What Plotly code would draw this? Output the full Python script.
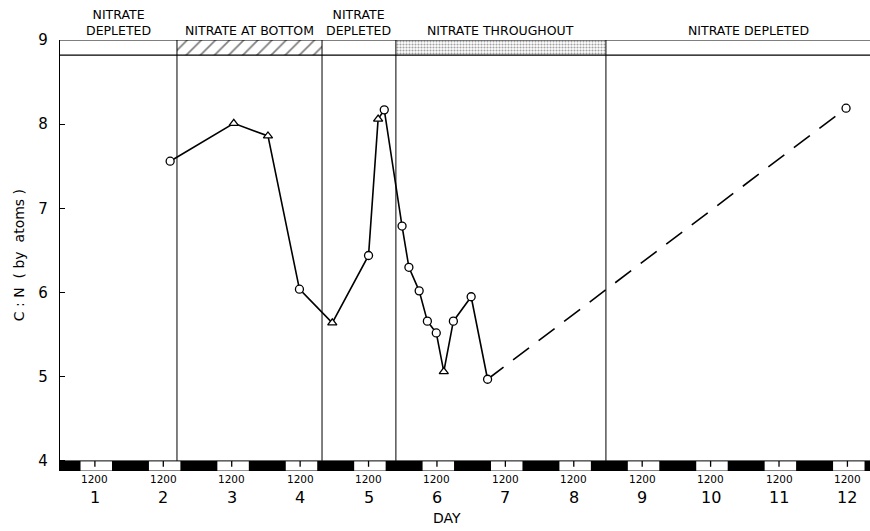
import plotly.graph_objects as go

# ---- data ----
time_solid = [2.10, 3.03, 3.53, 3.99, 4.47, 5.00, 5.14, 5.23, 5.49, 5.59, 5.74, 5.86, 5.99, 6.10, 6.24, 6.50, 6.74]
cn_solid   = [7.56, 8.01, 7.86, 6.04, 5.64, 6.44, 8.06, 8.17, 6.79, 6.30, 6.02, 5.66, 5.52, 5.06, 5.66, 5.95, 4.97]
sym_solid  = ["circle", "triangle-up", "triangle-up", "circle", "triangle-up", "circle", "triangle-up", "circle",
              "circle", "circle", "circle", "circle", "circle", "triangle-up", "circle", "circle", "circle"]
time_dash = [6.74, 11.98]
cn_dash   = [4.97, 8.19]

days = [1, 2, 3, 4, 5, 6, 7, 8, 9, 10, 11, 12]
day_labels = ["1", "2", "3", "4", "5", "6", "7", "8", "9", "10", "11", "12"]
noon_label = "1200"

# regime boundaries (days) and labels
bounds = [0.49, 2.20, 4.32, 5.40, 8.47, 12.65]
regime_labels = ["NITRATE<br>DEPLETED", "NITRATE AT BOTTOM", "NITRATE<br>DEPLETED",
                 "NITRATE THROUGHOUT", "NITRATE DEPLETED"]
regime_fill = [None, "/", None, ".", None]

light_start = -0.21   # light period relative to noon
light_end = 0.25

XMIN, XMAX = 0.49, 12.33
YMIN, YMAX = 3.88, 9.0
STRIP = 8.82

FONT = "DejaVu Sans"

fig = go.Figure()

# header strip patterns
for i, pat in enumerate(regime_fill):
    if pat is None:
        continue
    x0, x1 = bounds[i], bounds[i + 1]
    fig.add_trace(go.Bar(
        x=[(x0 + x1) / 2], y=[YMAX - STRIP], base=[STRIP], width=[x1 - x0],
        marker=dict(color="white",
                    pattern=dict(shape=pat, fgcolor="black" if pat == "/" else "#444",
                                 bgcolor="white",
                                 size=10 if pat == "/" else 3,
                                 solidity=0.18 if pat == "/" else 0.4),
                    line=dict(width=0)),
        showlegend=False, hoverinfo="skip"))

# data lines
fig.add_trace(go.Scatter(
    x=time_dash, y=cn_dash, mode="lines",
    line=dict(color="black", width=1.6, dash="20px,12px"),
    showlegend=False, hoverinfo="skip"))
fig.add_trace(go.Scatter(
    x=time_solid, y=cn_solid, mode="lines+markers",
    line=dict(color="black", width=1.6),
    marker=dict(symbol=sym_solid, size=8, color="white", line=dict(color="black", width=1.3)),
    showlegend=False, hoverinfo="skip"))
fig.add_trace(go.Scatter(
    x=time_dash[-1:], y=cn_dash[-1:], mode="markers",
    marker=dict(symbol="circle", size=8, color="white", line=dict(color="black", width=1.3)),
    showlegend=False, hoverinfo="skip"))

shapes = []
# light/dark bar
shapes.append(dict(type="rect", xref="x", yref="y", x0=XMIN, x1=XMAX, y0=YMIN, y1=4.0,
                   fillcolor="black", line=dict(width=0), layer="above"))
for d in [0] + days:
    shapes.append(dict(type="rect", xref="x", yref="y", x0=d + light_start, x1=d + light_end,
                       y0=YMIN + 0.005, y1=4.0, fillcolor="white", line=dict(width=0), layer="above"))
    shapes.append(dict(type="line", xref="x", yref="y", x0=d, x1=d, y0=4.0, y1=3.93,
                       line=dict(color="black", width=1.3), layer="above"))
# baseline at 4
shapes.append(dict(type="line", xref="x", yref="y", x0=XMIN, x1=XMAX, y0=4.0, y1=4.0,
                   line=dict(color="black", width=1), layer="above"))
# header strip lines
for yy in [YMAX, STRIP]:
    shapes.append(dict(type="line", xref="x", yref="y", x0=XMIN, x1=XMAX, y0=yy, y1=yy,
                       line=dict(color="black", width=1.2), layer="above"))
# regime boundaries
for b in bounds[1:-1]:
    shapes.append(dict(type="line", xref="x", yref="y", x0=b, x1=b, y0=4.0, y1=YMAX,
                       line=dict(color="black", width=1), layer="above"))

annotations = []
for i, lab in enumerate(regime_labels):
    cx = (bounds[i] + bounds[i + 1]) / 2
    annotations.append(dict(x=cx, y=YMAX, xref="x", yref="y", text=lab, showarrow=False,
                            yanchor="bottom", yshift=0, font=dict(family=FONT, size=12.5, color="black"),
                            align="center"))
for d, lab in zip(days, day_labels):
    annotations.append(dict(x=d, y=0, xref="x", yref="paper", text=noon_label, showarrow=False,
                            yanchor="middle", yshift=-8, font=dict(family=FONT, size=10.5, color="black")))
    annotations.append(dict(x=d, y=0, xref="x", yref="paper", text=lab, showarrow=False,
                            yanchor="middle", yshift=-26, font=dict(family=FONT, size=16, color="black")))
annotations.append(dict(x=0.478, y=0, xref="paper", yref="paper", text="DAY", showarrow=False,
                        yanchor="middle", yshift=-47, font=dict(family=FONT, size=14, color="black")))
annotations.append(dict(x=-0.051, y=0.5, xref="paper", yref="paper", text="C : N  ( by  atoms )",
                        showarrow=False, textangle=-90, xanchor="center", yanchor="middle",
                        font=dict(family=FONT, size=14, color="black")))

fig.update_layout(
    width=870, height=531,
    margin=dict(l=60, r=0, t=40, b=60),
    paper_bgcolor="white", plot_bgcolor="white",
    barmode="overlay",
    shapes=shapes, annotations=annotations,
    xaxis=dict(range=[XMIN, XMAX], showticklabels=False, showgrid=False, zeroline=False,
               showline=False, ticks=""),
    yaxis=dict(range=[YMIN, YMAX], tickvals=[4, 5, 6, 7, 8, 9], ticktext=["4", "5", "6", "7", "8", "9"],
               ticks="inside", ticklen=5, tickcolor="black", showgrid=False, zeroline=False,
               showline=True, linecolor="black", linewidth=1.2, ticklabelstandoff=8,
               tickfont=dict(family=FONT, size=15, color="black")),
)

fig.write_html("out.html")
